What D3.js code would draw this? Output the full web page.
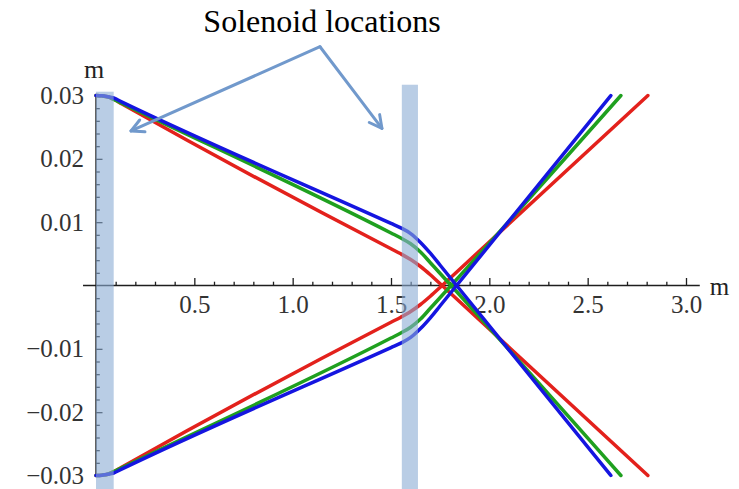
<!DOCTYPE html>
<html>
<head>
<meta charset="utf-8">
<script src="https://cdn.jsdelivr.net/npm/d3@7/dist/d3.min.js"></script>
<style>
  html, body { margin: 0; padding: 0; background: #ffffff; }
  svg { display: block; }
  text { font-family: "Liberation Serif", "Times New Roman", serif; }
</style>
</head>
<body>
<div id="chart"></div>
<script>
// Beam envelope through two solenoids: x along the beamline (m), y transverse offset (m)

const xTickValues = [0.5, 1.0, 1.5, 2.0, 2.5, 3.0];
const xTickLabels = ["0.5", "1.0", "1.5", "2.0", "2.5", "3.0"];
const yTickValues = [-0.03, -0.02, -0.01, 0.01, 0.02, 0.03];
const yTickLabels = ["\u22120.03", "\u22120.02", "\u22120.01", "0.01", "0.02", "0.03"];

// Solenoid extents along the beamline (m)
const solenoids = [[0.0, 0.09], [1.555, 1.637]];

// Trajectories [x, y] for each setting (upper and lower edge rays)
const redUpper = [[0, 0.03], [0.03, 0.02995], [0.06, 0.0298], [0.09, 0.0294], [0.13, 0.0287],
  [1.50, 0.0058], [1.55, 0.0050], [1.60, 0.0041], [1.65, 0.0030], [1.70, 0.0017], [1.76, 0.0000], [2.806, -0.030]];
const redLower = [[0, -0.03], [0.03, -0.02995], [0.06, -0.0298], [0.09, -0.0294], [0.13, -0.0287],
  [1.50, -0.0058], [1.55, -0.0050], [1.60, -0.0041], [1.65, -0.0030], [1.70, -0.0017], [1.76, 0.0000], [2.806, 0.030]];

const greenUpper = [[0, 0.03], [0.03, 0.02995], [0.06, 0.0298], [0.09, 0.0294], [0.13, 0.0288],
  [1.50, 0.0083], [1.55, 0.0075], [1.60, 0.0066], [1.65, 0.0053], [1.70, 0.0036], [1.75, 0.0019], [2.669, -0.030]];
const greenLower = [[0, -0.03], [0.03, -0.02995], [0.06, -0.0298], [0.09, -0.0294], [0.13, -0.0288],
  [1.50, -0.0083], [1.55, -0.0075], [1.60, -0.0066], [1.65, -0.0053], [1.70, -0.0036], [1.75, -0.0019], [2.669, 0.030]];

const blueUpper = [[0, 0.03], [0.03, 0.02995], [0.06, 0.0298], [0.09, 0.0296], [0.13, 0.0290],
  [1.50, 0.0098], [1.55, 0.0091], [1.60, 0.0082], [1.65, 0.0068], [1.70, 0.0051], [1.75, 0.0032], [2.618, -0.030]];
const blueLower = [[0, -0.03], [0.03, -0.02995], [0.06, -0.0298], [0.09, -0.0296], [0.13, -0.0290],
  [1.50, -0.0098], [1.55, -0.0091], [1.60, -0.0082], [1.65, -0.0068], [1.70, -0.0051], [1.75, -0.0032], [2.618, 0.030]];

const series = [
  { color: "#e3211c", rays: [redUpper, redLower] },
  { color: "#1fa01f", rays: [greenUpper, greenLower] },
  { color: "#1515e0", rays: [blueUpper, blueLower] }
];

const W = 739, H = 489;
const svg = d3.select("#chart").append("svg").attr("width", W).attr("height", H);

const x = d3.scaleLinear().domain([0, 3]).range([96, 686]);
const y = d3.scaleLinear().domain([-0.03, 0.03]).range([475.5, 95.5]);

const axisColor = "#1e1e1e";

// ---- Axes ----
const gx = svg.append("g").attr("transform", `translate(0,${y(0)})`);
gx.append("line")
  .attr("x1", x(-0.066)).attr("x2", x(3.07))
  .attr("stroke", axisColor).attr("stroke-width", 1.4);

const minorX = d3.range(1, 31).map(d => d / 10).filter(d => Math.abs(d * 2 - Math.round(d * 2)) > 1e-6);
gx.append("g")
  .call(d3.axisBottom(x).tickValues(minorX).tickSize(-3.8).tickFormat(""))
  .call(g => g.select(".domain").remove());
gx.append("g")
  .call(d3.axisBottom(x).tickValues(xTickValues).tickSize(-7.5).tickPadding(10)
    .tickFormat((d, i) => xTickLabels[i]))
  .call(g => g.select(".domain").remove());

const gy = svg.append("g").attr("transform", `translate(${x(0)},0)`);
gy.append("line")
  .attr("y1", y(0.0302)).attr("y2", y(-0.0302))
  .attr("stroke", axisColor).attr("stroke-width", 1.4);

const minorY = d3.range(-15, 16).map(d => d * 0.002).filter(d => Math.abs(d * 100 - Math.round(d * 100)) > 1e-6);
gy.append("g")
  .call(d3.axisLeft(y).tickValues(minorY).tickSize(-3.8).tickFormat(""))
  .call(g => g.select(".domain").remove());
gy.append("g")
  .call(d3.axisLeft(y).tickValues(yTickValues).tickSize(-6.5).tickPadding(12)
    .tickFormat((d, i) => yTickLabels[i]))
  .call(g => g.select(".domain").remove());

svg.selectAll(".tick line").attr("stroke", axisColor).attr("stroke-width", 1.3);
svg.selectAll(".tick text")
  .attr("fill", "#333")
  .attr("font-family", "Liberation Serif, Times New Roman, serif")
  .attr("font-size", 25);

// Axis unit labels
svg.append("text")
  .attr("x", x(3.07) + 10).attr("y", y(0) + 9)
  .attr("font-size", 25).attr("fill", "#222")
  .text("m");
svg.append("text")
  .attr("x", x(0) - 2).attr("y", y(0.0328))
  .attr("text-anchor", "middle")
  .attr("font-size", 26).attr("fill", "#222")
  .text("m");

// ---- Trajectories ----
const line = d3.line().x(d => x(d[0])).y(d => y(d[1])).curve(d3.curveMonotoneX);
const gLines = svg.append("g");
series.forEach(s => {
  s.rays.forEach(r => {
    gLines.append("path")
      .attr("d", line(r))
      .attr("fill", "none")
      .attr("stroke", s.color)
      .attr("stroke-width", 3.5)
      .attr("stroke-linecap", "round")
      .attr("stroke-linejoin", "round");
  });
});

// ---- Solenoid bands ----
const bandTops = [0.0306, 0.0317];
svg.append("g").selectAll("rect")
  .data(solenoids)
  .join("rect")
  .attr("x", d => x(d[0]))
  .attr("width", d => x(d[1]) - x(d[0]))
  .attr("y", (d, i) => y(bandTops[i]))
  .attr("height", (d, i) => H - y(bandTops[i]))
  .attr("fill", "#8aacd4")
  .attr("fill-opacity", 0.6);

// ---- Callout ----
const arrowColor = "#7199cc";
const origin = [x(1.139), y(0.0377)];
const tips = [[x(0.178), y(0.0244)], [x(1.454), y(0.0248)]];
const gA = svg.append("g")
  .attr("stroke", arrowColor).attr("stroke-width", 3)
  .attr("fill", "none").attr("stroke-linecap", "round").attr("stroke-linejoin", "round");
tips.forEach(t => {
  gA.append("line").attr("x1", origin[0]).attr("y1", origin[1]).attr("x2", t[0]).attr("y2", t[1]);
  const ang = Math.atan2(t[1] - origin[1], t[0] - origin[0]);
  const len = 14, spread = Math.PI / 6.5;
  const p1 = [t[0] - len * Math.cos(ang - spread), t[1] - len * Math.sin(ang - spread)];
  const p2 = [t[0] - len * Math.cos(ang + spread), t[1] - len * Math.sin(ang + spread)];
  gA.append("path").attr("d", `M${p1[0]},${p1[1]}L${t[0]},${t[1]}L${p2[0]},${p2[1]}`);
});

svg.append("text")
  .attr("x", origin[0] + 2).attr("y", 32)
  .attr("text-anchor", "middle")
  .attr("font-size", 32).attr("fill", "#000")
  .text("Solenoid locations");
</script>
</body>
</html>
